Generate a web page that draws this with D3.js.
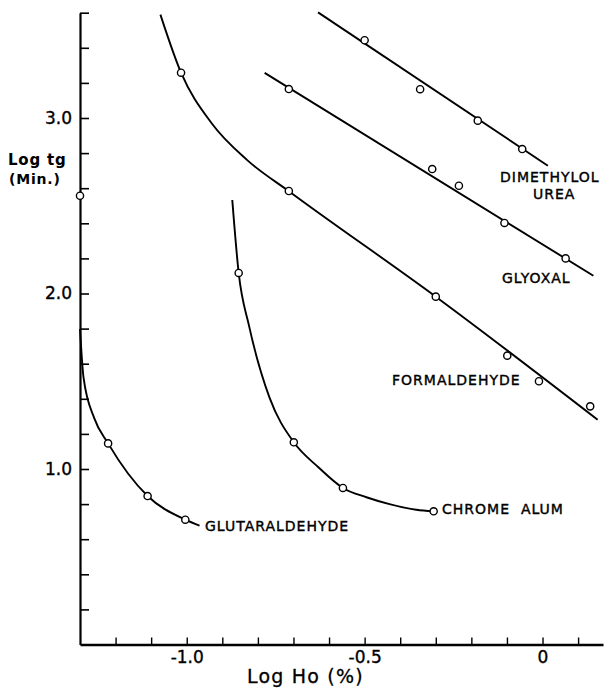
<!DOCTYPE html>
<meta charset="utf-8">
<script src="https://d3js.org/d3.v7.min.js"></script>
<style>
  body { margin: 0; background: #fff; font-family: 'DejaVu Sans', sans-serif; }
  .axis path, .axis line { stroke: #000; }
  .axis text { font-family: 'DejaVu Sans', sans-serif; fill: #000; stroke: #000; stroke-width: 0.35px; }
  .lbl { font-family: 'DejaVu Sans', sans-serif; font-size: 14px; letter-spacing: 1px; fill: #000; stroke: #000; stroke-width: 0.4px; }
</style>
<body>
<svg width="605" height="688"></svg>
<script>
// observed points (log Ho %, log tg min)
var dimethylolPts = [[-0.500, 3.443], [-0.344, 3.164], [-0.182, 2.985], [-0.057, 2.823]];
var glyoxalPts = [[-0.713, 3.165], [-0.310, 2.709], [-0.235, 2.614], [-0.107, 2.402], [0.065, 2.200]];
var formaldehydePts = [[-1.016, 3.258], [-0.713, 2.584], [-0.300, 1.982], [-0.099, 1.646], [-0.010, 1.500], [0.134, 1.357]];
var chromePts = [[-0.854, 2.117], [-0.699, 1.152], [-0.561, 0.892], [-0.306, 0.759]];
var glutarPts = [[-1.221, 1.146], [-1.110, 0.846], [-1.004, 0.711]];
var strayPts = [[-1.300, 2.557]];

// fitted lines / curves
var dimethylolFit = [[-0.631, 3.602], [0.015, 2.728]];
var glyoxalFit = [[-0.781, 3.257], [0.143, 2.101]];
var formaldehydeFit = [[-1.074, 3.589], [-1.016, 3.258], [-0.930, 2.97],
  [-0.830, 2.76], [-0.711, 2.58], [-0.300, 1.982], [0.155, 1.281]];
var chromeFit = [[-0.872, 2.533], [-0.854, 2.117], [-0.825, 1.817],
  [-0.767, 1.405], [-0.699, 1.152], [-0.630, 1.010], [-0.561, 0.892],
  [-0.495, 0.839], [-0.430, 0.800], [-0.355, 0.768], [-0.306, 0.759]];
var glutarFit = [[-1.300, 1.798], [-1.290, 1.52], [-1.260, 1.29],
  [-1.221, 1.146], [-1.110, 0.846], [-1.004, 0.711], [-0.964, 0.677]];

var xTicks = [-1.2, -1.1, -1.0, -0.9, -0.8, -0.7, -0.6, -0.5, -0.4, -0.3, -0.2, -0.1, 0, 0.1];
var xLabels = {"-1": "-1.0", "-0.5": "-0.5", "0": "0"};
var yTicks = [0.2, 0.4, 0.6, 0.8, 1.0, 1.2, 1.4, 1.6, 1.8, 2.0, 2.2, 2.4, 2.6, 2.8, 3.0, 3.2, 3.4, 3.6];
var yLabels = {"1": "1.0", "2": "2.0", "3": "3.0"};

var svg = d3.select("svg");

var x = d3.scaleLinear().domain([-1.3, 0.17]).range([80, 603]);
var y = d3.scaleLinear().domain([0, 3.6]).range([644.5, 12.7]);

// axes
svg.append("g")
    .attr("class", "axis")
    .attr("transform", "translate(" + x(-1.3) + ",0)")
    .call(d3.axisLeft(y).tickValues(yTicks).tickSizeInner(-9).tickSizeOuter(0).tickPadding(8)
      .tickFormat(function(d) { return yLabels[Math.round(d * 10) / 10] || ""; }))
    .call(function(g) {
      g.select(".domain").attr("stroke-width", 2.2);
      g.selectAll(".tick line").attr("stroke-width", 1.6);
      g.selectAll("text").attr("font-size", 17);
    });

svg.append("g")
    .attr("class", "axis")
    .attr("transform", "translate(0," + y(0) + ")")
    .call(d3.axisBottom(x).tickValues(xTicks).tickSizeInner(-7).tickSizeOuter(0).tickPadding(6)
      .tickFormat(function(d) { return xLabels[Math.round(d * 10) / 10] || ""; }))
    .call(function(g) {
      g.select(".domain").attr("stroke-width", 2.6);
      g.selectAll(".tick line").attr("stroke-width", 1.4);
      g.selectAll("text").attr("font-size", 17);
    });

// axis titles
var yt = svg.append("text").attr("font-size", 15).attr("letter-spacing", 0.8).attr("font-weight", "bold");
yt.append("tspan").attr("x", 8).attr("y", 165).text("Log tg");
yt.append("tspan").attr("x", 9).attr("y", 184).attr("font-size", 14).text("(Min.)");

svg.append("text")
    .attr("x", 247).attr("y", 683)
    .attr("font-size", 19)
    .attr("letter-spacing", 1.2)
    .attr("stroke", "#000")
    .attr("stroke-width", 0.3)
    .text("Log Ho (%)");

// curves
var line = d3.line()
    .x(function(d) { return x(d[0]); })
    .y(function(d) { return y(d[1]); })
    .curve(d3.curveMonotoneX);

[dimethylolFit, glyoxalFit, formaldehydeFit, chromeFit, glutarFit].forEach(function(s) {
  svg.append("path")
      .datum(s)
      .attr("d", line)
      .attr("fill", "none")
      .attr("stroke", "#000")
      .attr("stroke-width", 1.9);
});

// observed points
[dimethylolPts, glyoxalPts, formaldehydePts, chromePts, glutarPts, strayPts].forEach(function(s) {
  svg.append("g").selectAll("circle")
      .data(s)
      .enter().append("circle")
      .attr("cx", function(d) { return x(d[0]); })
      .attr("cy", function(d) { return y(d[1]); })
      .attr("r", 3.6)
      .attr("fill", "#fff")
      .attr("stroke", "#000")
      .attr("stroke-width", 1.4);
});

// curve labels
var labels = [
  {t: "DIMETHYLOL", x: 500, y: 182},
  {t: "UREA", x: 533, y: 199},
  {t: "GLYOXAL", x: 502, y: 283},
  {t: "FORMALDEHYDE", x: 392, y: 385},
  {t: "CHROME  ALUM", x: 442, y: 514},
  {t: "GLUTARALDEHYDE", x: 205, y: 531}
];
svg.selectAll(".lbl")
    .data(labels)
    .enter().append("text")
    .attr("class", "lbl")
    .attr("x", function(d) { return d.x; })
    .attr("y", function(d) { return d.y; })
    .attr("xml:space", "preserve")
    .style("white-space", "pre")
    .text(function(d) { return d.t; });
</script>
</body>
